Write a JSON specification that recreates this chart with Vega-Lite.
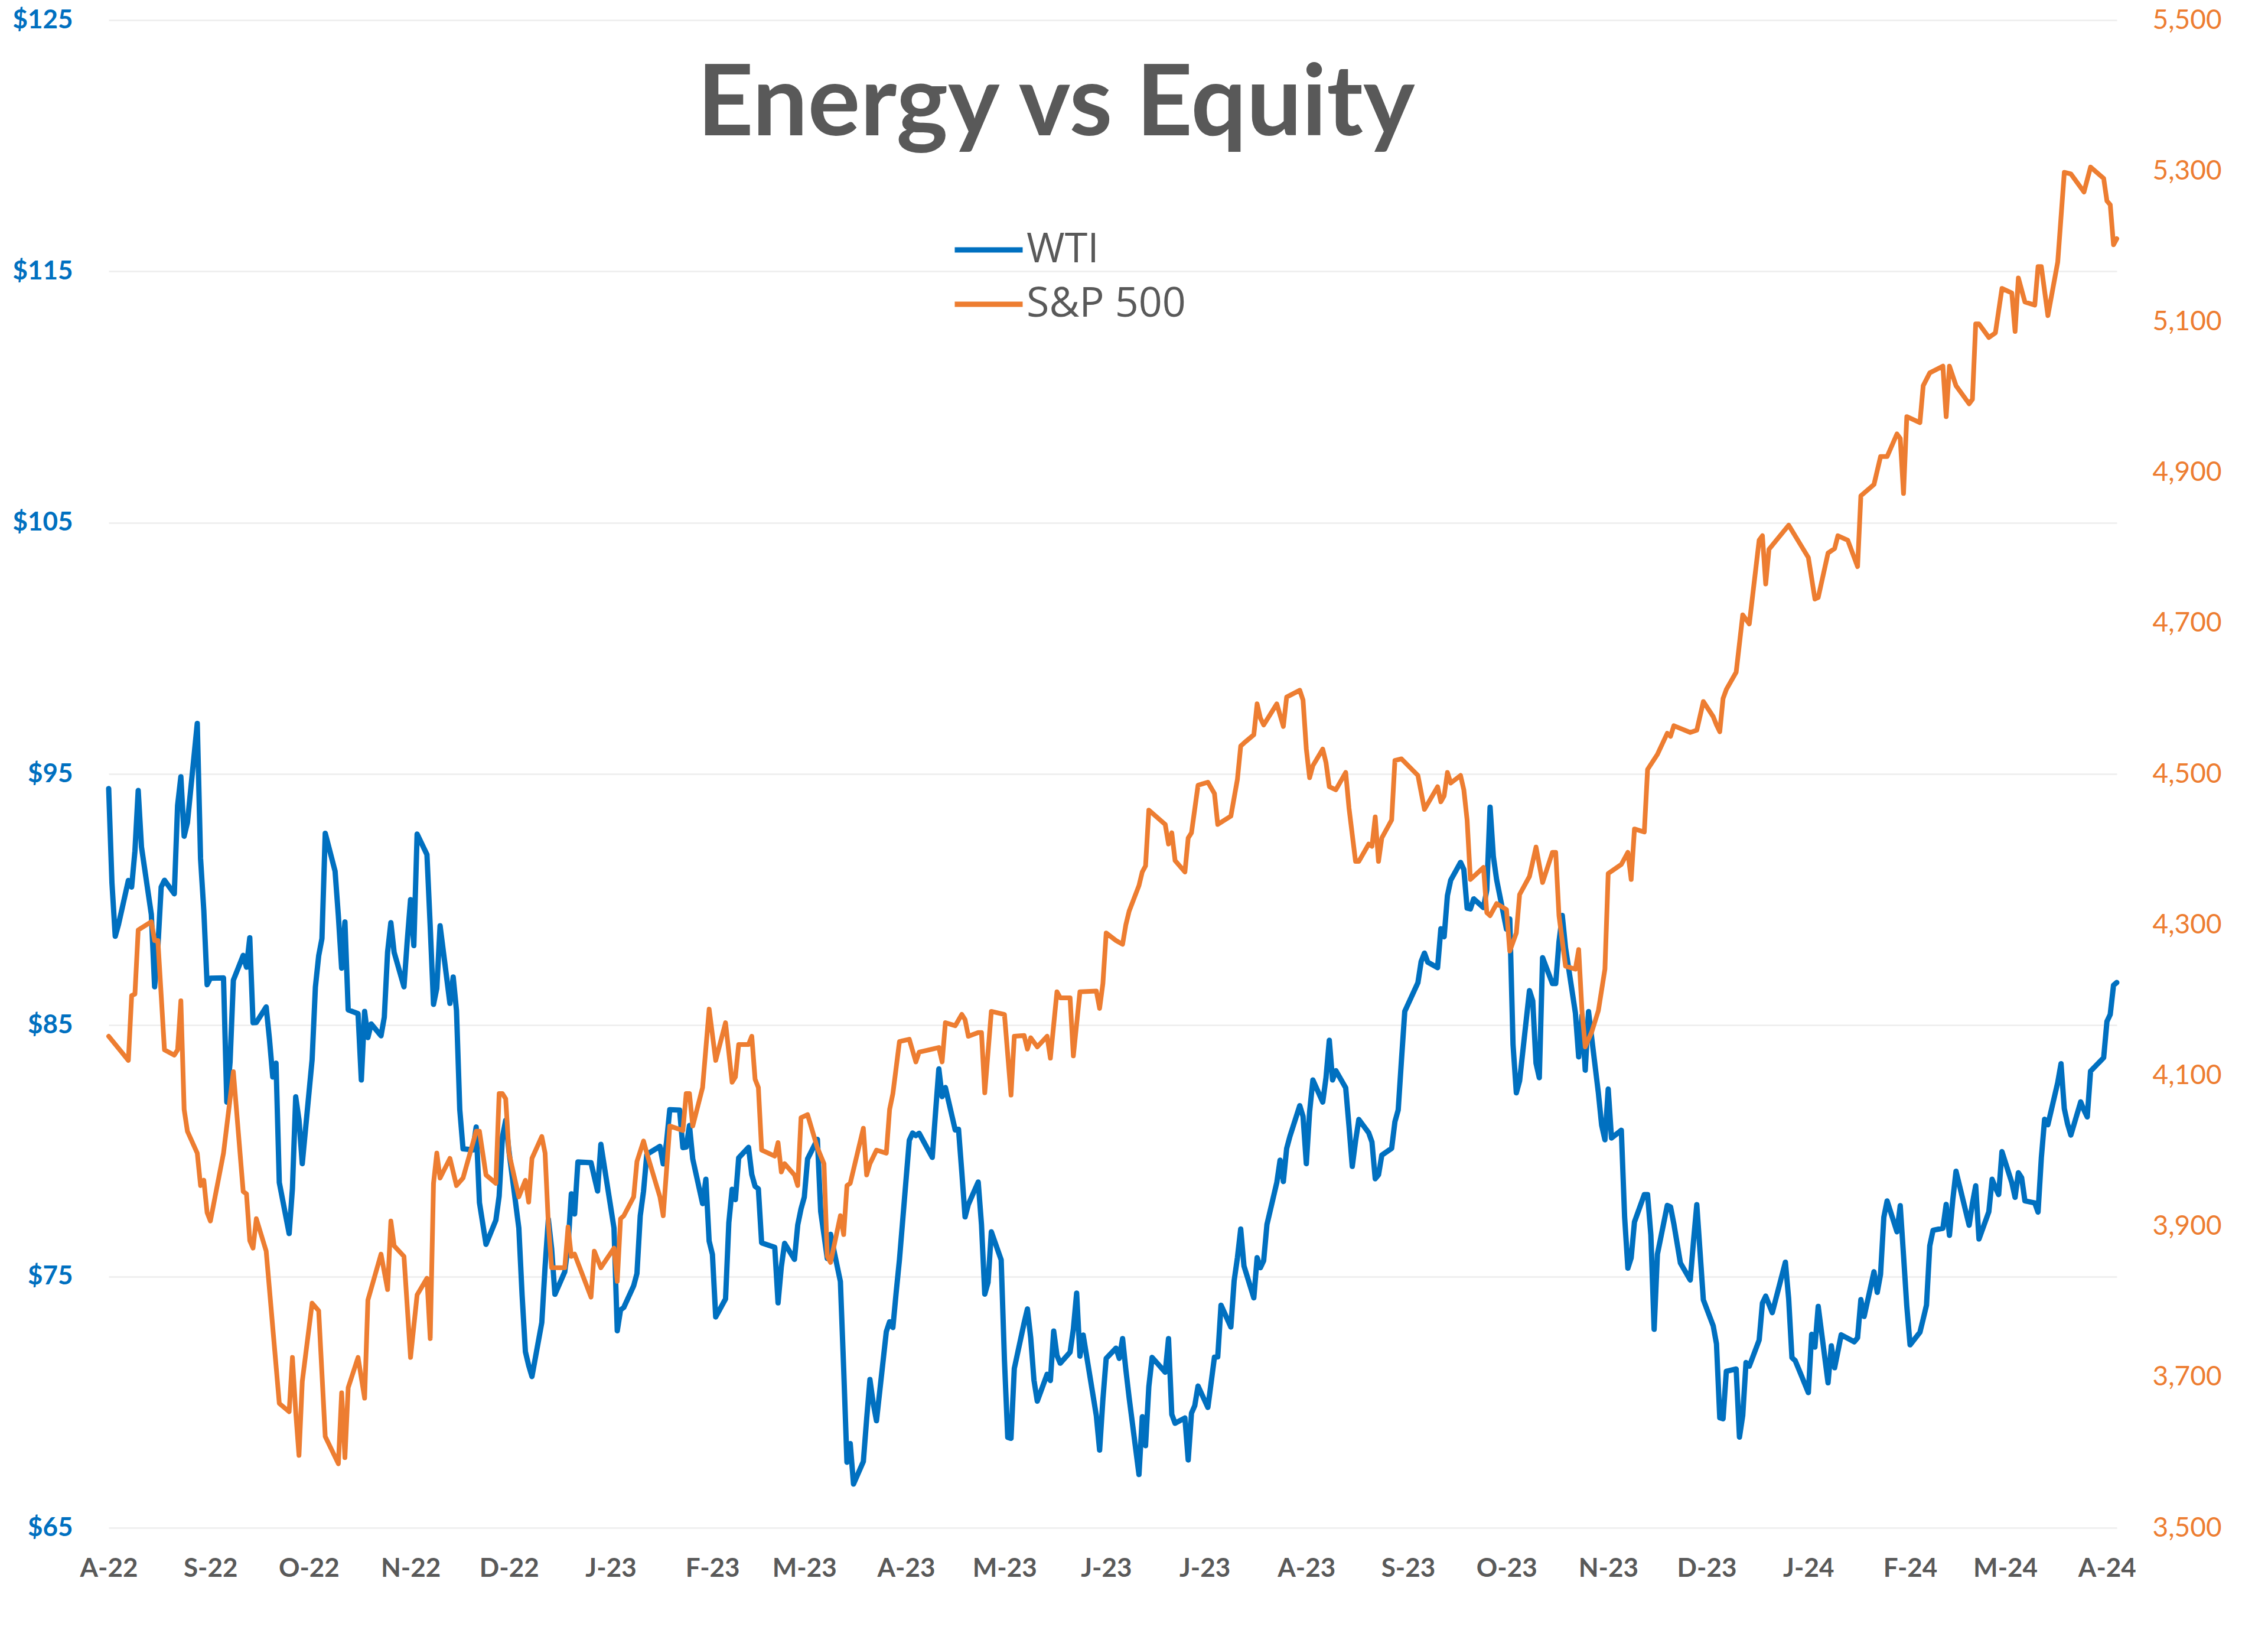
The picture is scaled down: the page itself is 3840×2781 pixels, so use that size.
{
"$schema":"https://vega.github.io/schema/vega-lite/v6.json",
"width":3400,"height":2552,
"autosize":{"type":"none"},
"padding":{"left":184,"top":34,"right":256,"bottom":195},
"background":"white",
"title":{"text":"Energy vs Equity","anchor":"middle","frame":"group","offset":0,"baseline":"alphabetic","dy":384,"dx":-96,"font":"Lato","fontSize":166,"fontWeight":700,"color":"#595959"},
"datasets":{
"wti":[
{"d":"2022-08-02","v":94.42},{"d":"2022-08-03","v":90.66},{"d":"2022-08-04","v":88.54},{"d":"2022-08-05","v":89.01},{"d":"2022-08-08","v":90.76},{"d":"2022-08-09","v":90.50},{"d":"2022-08-10","v":91.93},{"d":"2022-08-11","v":94.34},{"d":"2022-08-12","v":92.09},{"d":"2022-08-15","v":89.41},{"d":"2022-08-16","v":86.53},{"d":"2022-08-17","v":88.11},{"d":"2022-08-18","v":90.50},{"d":"2022-08-19","v":90.77},{"d":"2022-08-22","v":90.23},{"d":"2022-08-23","v":93.74},{"d":"2022-08-24","v":94.89},{"d":"2022-08-25","v":92.52},{"d":"2022-08-26","v":93.06},{"d":"2022-08-29","v":97.01},{"d":"2022-08-30","v":91.64},{"d":"2022-08-31","v":89.55},
{"d":"2022-09-01","v":86.61},{"d":"2022-09-02","v":86.87},{"d":"2022-09-06","v":86.88},{"d":"2022-09-07","v":81.94},{"d":"2022-09-08","v":83.54},{"d":"2022-09-09","v":86.79},{"d":"2022-09-12","v":87.78},{"d":"2022-09-13","v":87.31},{"d":"2022-09-14","v":88.48},{"d":"2022-09-15","v":85.10},{"d":"2022-09-16","v":85.11},{"d":"2022-09-19","v":85.73},{"d":"2022-09-20","v":84.45},{"d":"2022-09-21","v":82.94},{"d":"2022-09-22","v":83.49},{"d":"2022-09-23","v":78.74},{"d":"2022-09-26","v":76.71},{"d":"2022-09-27","v":78.50},{"d":"2022-09-28","v":82.15},{"d":"2022-09-29","v":81.23},{"d":"2022-09-30","v":79.49},
{"d":"2022-10-03","v":83.63},{"d":"2022-10-04","v":86.52},{"d":"2022-10-05","v":87.76},{"d":"2022-10-06","v":88.45},{"d":"2022-10-07","v":92.64},{"d":"2022-10-10","v":91.13},{"d":"2022-10-11","v":89.35},{"d":"2022-10-12","v":87.27},{"d":"2022-10-13","v":89.11},{"d":"2022-10-14","v":85.61},{"d":"2022-10-17","v":85.46},{"d":"2022-10-18","v":82.82},{"d":"2022-10-19","v":85.55},{"d":"2022-10-20","v":84.51},{"d":"2022-10-21","v":85.05},{"d":"2022-10-24","v":84.58},{"d":"2022-10-25","v":85.32},{"d":"2022-10-26","v":87.91},{"d":"2022-10-27","v":89.08},{"d":"2022-10-28","v":87.90},{"d":"2022-10-31","v":86.53},
{"d":"2022-11-01","v":88.37},{"d":"2022-11-02","v":90.00},{"d":"2022-11-03","v":88.17},{"d":"2022-11-04","v":92.61},{"d":"2022-11-07","v":91.79},{"d":"2022-11-08","v":88.91},{"d":"2022-11-09","v":85.83},{"d":"2022-11-10","v":86.47},{"d":"2022-11-11","v":88.96},{"d":"2022-11-14","v":85.87},{"d":"2022-11-15","v":86.92},{"d":"2022-11-16","v":85.59},{"d":"2022-11-17","v":81.64},{"d":"2022-11-18","v":80.08},{"d":"2022-11-21","v":80.04},{"d":"2022-11-22","v":80.95},{"d":"2022-11-23","v":77.94},{"d":"2022-11-25","v":76.28},{"d":"2022-11-28","v":77.24},{"d":"2022-11-29","v":78.20},{"d":"2022-11-30","v":80.55},
{"d":"2022-12-01","v":81.22},{"d":"2022-12-02","v":79.98},{"d":"2022-12-05","v":76.93},{"d":"2022-12-06","v":74.25},{"d":"2022-12-07","v":72.01},{"d":"2022-12-08","v":71.46},{"d":"2022-12-09","v":71.02},{"d":"2022-12-12","v":73.17},{"d":"2022-12-13","v":75.39},{"d":"2022-12-14","v":77.28},{"d":"2022-12-15","v":76.11},{"d":"2022-12-16","v":74.29},{"d":"2022-12-19","v":75.19},{"d":"2022-12-20","v":76.23},{"d":"2022-12-21","v":78.29},{"d":"2022-12-22","v":77.49},{"d":"2022-12-23","v":79.56},{"d":"2022-12-27","v":79.53},{"d":"2022-12-28","v":78.96},{"d":"2022-12-29","v":78.40},{"d":"2022-12-30","v":80.26},
{"d":"2023-01-03","v":76.93},{"d":"2023-01-04","v":72.84},{"d":"2023-01-05","v":73.67},{"d":"2023-01-06","v":73.77},{"d":"2023-01-09","v":74.63},{"d":"2023-01-10","v":75.12},{"d":"2023-01-11","v":77.41},{"d":"2023-01-12","v":78.39},{"d":"2023-01-13","v":79.86},{"d":"2023-01-17","v":80.18},{"d":"2023-01-18","v":79.48},{"d":"2023-01-19","v":80.33},{"d":"2023-01-20","v":81.64},{"d":"2023-01-23","v":81.62},{"d":"2023-01-24","v":80.13},{"d":"2023-01-25","v":80.15},{"d":"2023-01-26","v":81.01},{"d":"2023-01-27","v":79.68},{"d":"2023-01-30","v":77.90},{"d":"2023-01-31","v":78.87},
{"d":"2023-02-01","v":76.41},{"d":"2023-02-02","v":75.88},{"d":"2023-02-03","v":73.39},{"d":"2023-02-06","v":74.11},{"d":"2023-02-07","v":77.14},{"d":"2023-02-08","v":78.47},{"d":"2023-02-09","v":78.06},{"d":"2023-02-10","v":79.72},{"d":"2023-02-13","v":80.14},{"d":"2023-02-14","v":79.06},{"d":"2023-02-15","v":78.59},{"d":"2023-02-16","v":78.49},{"d":"2023-02-17","v":76.34},{"d":"2023-02-21","v":76.16},{"d":"2023-02-22","v":73.95},{"d":"2023-02-23","v":75.39},{"d":"2023-02-24","v":76.32},{"d":"2023-02-27","v":75.68},{"d":"2023-02-28","v":77.05},
{"d":"2023-03-01","v":77.69},{"d":"2023-03-02","v":78.16},{"d":"2023-03-03","v":79.68},{"d":"2023-03-06","v":80.46},{"d":"2023-03-07","v":77.58},{"d":"2023-03-08","v":76.66},{"d":"2023-03-09","v":75.72},{"d":"2023-03-10","v":76.68},{"d":"2023-03-13","v":74.80},{"d":"2023-03-14","v":71.33},{"d":"2023-03-15","v":67.61},{"d":"2023-03-16","v":68.35},{"d":"2023-03-17","v":66.74},{"d":"2023-03-20","v":67.64},{"d":"2023-03-21","v":69.33},{"d":"2023-03-22","v":70.90},{"d":"2023-03-23","v":69.96},{"d":"2023-03-24","v":69.26},{"d":"2023-03-27","v":72.81},{"d":"2023-03-28","v":73.20},{"d":"2023-03-29","v":72.97},{"d":"2023-03-30","v":74.37},{"d":"2023-03-31","v":75.67},
{"d":"2023-04-03","v":80.42},{"d":"2023-04-04","v":80.71},{"d":"2023-04-05","v":80.61},{"d":"2023-04-06","v":80.70},{"d":"2023-04-10","v":79.74},{"d":"2023-04-11","v":81.53},{"d":"2023-04-12","v":83.26},{"d":"2023-04-13","v":82.16},{"d":"2023-04-14","v":82.52},{"d":"2023-04-17","v":80.83},{"d":"2023-04-18","v":80.86},{"d":"2023-04-19","v":79.16},{"d":"2023-04-20","v":77.37},{"d":"2023-04-21","v":77.87},{"d":"2023-04-24","v":78.76},{"d":"2023-04-25","v":77.07},{"d":"2023-04-26","v":74.30},{"d":"2023-04-27","v":74.76},{"d":"2023-04-28","v":76.78},
{"d":"2023-05-01","v":75.66},{"d":"2023-05-02","v":71.66},{"d":"2023-05-03","v":68.60},{"d":"2023-05-04","v":68.56},{"d":"2023-05-05","v":71.34},{"d":"2023-05-08","v":73.16},{"d":"2023-05-09","v":73.71},{"d":"2023-05-10","v":72.56},{"d":"2023-05-11","v":70.87},{"d":"2023-05-12","v":70.04},{"d":"2023-05-15","v":71.11},{"d":"2023-05-16","v":70.86},{"d":"2023-05-17","v":72.83},{"d":"2023-05-18","v":71.86},{"d":"2023-05-19","v":71.55},{"d":"2023-05-22","v":71.99},{"d":"2023-05-23","v":72.91},{"d":"2023-05-24","v":74.34},{"d":"2023-05-25","v":71.83},{"d":"2023-05-26","v":72.67},{"d":"2023-05-30","v":69.46},{"d":"2023-05-31","v":68.09},
{"d":"2023-06-01","v":70.10},{"d":"2023-06-02","v":71.74},{"d":"2023-06-05","v":72.15},{"d":"2023-06-06","v":71.74},{"d":"2023-06-07","v":72.53},{"d":"2023-06-08","v":71.29},{"d":"2023-06-09","v":70.17},{"d":"2023-06-12","v":67.12},{"d":"2023-06-13","v":69.42},{"d":"2023-06-14","v":68.27},{"d":"2023-06-15","v":70.62},{"d":"2023-06-16","v":71.78},{"d":"2023-06-20","v":71.19},{"d":"2023-06-21","v":72.53},{"d":"2023-06-22","v":69.51},{"d":"2023-06-23","v":69.16},{"d":"2023-06-26","v":69.37},{"d":"2023-06-27","v":67.70},{"d":"2023-06-28","v":69.56},{"d":"2023-06-29","v":69.86},{"d":"2023-06-30","v":70.64},
{"d":"2023-07-03","v":69.79},{"d":"2023-07-05","v":71.79},{"d":"2023-07-06","v":71.80},{"d":"2023-07-07","v":73.86},{"d":"2023-07-10","v":72.99},{"d":"2023-07-11","v":74.83},{"d":"2023-07-12","v":75.75},{"d":"2023-07-13","v":76.89},{"d":"2023-07-14","v":75.42},{"d":"2023-07-17","v":74.15},{"d":"2023-07-18","v":75.75},{"d":"2023-07-19","v":75.35},{"d":"2023-07-20","v":75.63},{"d":"2023-07-21","v":77.07},{"d":"2023-07-24","v":78.74},{"d":"2023-07-25","v":79.63},{"d":"2023-07-26","v":78.78},{"d":"2023-07-27","v":80.09},{"d":"2023-07-28","v":80.58},{"d":"2023-07-31","v":81.80},
{"d":"2023-08-01","v":81.37},{"d":"2023-08-02","v":79.49},{"d":"2023-08-03","v":81.55},{"d":"2023-08-04","v":82.82},{"d":"2023-08-07","v":81.94},{"d":"2023-08-08","v":82.92},{"d":"2023-08-09","v":84.40},{"d":"2023-08-10","v":82.82},{"d":"2023-08-11","v":83.19},{"d":"2023-08-14","v":82.51},{"d":"2023-08-15","v":80.99},{"d":"2023-08-16","v":79.38},{"d":"2023-08-17","v":80.39},{"d":"2023-08-18","v":81.25},{"d":"2023-08-21","v":80.72},{"d":"2023-08-22","v":80.35},{"d":"2023-08-23","v":78.89},{"d":"2023-08-24","v":79.05},{"d":"2023-08-25","v":79.83},{"d":"2023-08-28","v":80.10},{"d":"2023-08-29","v":81.16},{"d":"2023-08-30","v":81.63},{"d":"2023-08-31","v":83.63},
{"d":"2023-09-01","v":85.55},{"d":"2023-09-05","v":86.69},{"d":"2023-09-06","v":87.54},{"d":"2023-09-07","v":87.87},{"d":"2023-09-08","v":87.51},{"d":"2023-09-11","v":87.29},{"d":"2023-09-12","v":88.84},{"d":"2023-09-13","v":88.52},{"d":"2023-09-14","v":90.16},{"d":"2023-09-15","v":90.77},{"d":"2023-09-18","v":91.48},{"d":"2023-09-19","v":91.20},{"d":"2023-09-20","v":89.66},{"d":"2023-09-21","v":89.63},{"d":"2023-09-22","v":90.03},{"d":"2023-09-25","v":89.68},{"d":"2023-09-26","v":90.39},{"d":"2023-09-27","v":93.68},{"d":"2023-09-28","v":91.71},{"d":"2023-09-29","v":90.79},
{"d":"2023-10-02","v":88.82},{"d":"2023-10-03","v":89.23},{"d":"2023-10-04","v":84.22},{"d":"2023-10-05","v":82.31},{"d":"2023-10-06","v":82.79},{"d":"2023-10-09","v":86.38},{"d":"2023-10-10","v":85.97},{"d":"2023-10-11","v":83.49},{"d":"2023-10-12","v":82.91},{"d":"2023-10-13","v":87.69},{"d":"2023-10-16","v":86.66},{"d":"2023-10-17","v":86.66},{"d":"2023-10-18","v":88.32},{"d":"2023-10-19","v":89.37},{"d":"2023-10-20","v":88.08},{"d":"2023-10-23","v":85.49},{"d":"2023-10-24","v":83.74},{"d":"2023-10-25","v":85.39},{"d":"2023-10-26","v":83.21},{"d":"2023-10-27","v":85.54},{"d":"2023-10-30","v":82.31},{"d":"2023-10-31","v":81.02},
{"d":"2023-11-01","v":80.44},{"d":"2023-11-02","v":82.46},{"d":"2023-11-03","v":80.51},{"d":"2023-11-06","v":80.82},{"d":"2023-11-07","v":77.37},{"d":"2023-11-08","v":75.33},{"d":"2023-11-09","v":75.74},{"d":"2023-11-10","v":77.17},{"d":"2023-11-13","v":78.26},{"d":"2023-11-14","v":78.26},{"d":"2023-11-15","v":76.66},{"d":"2023-11-16","v":72.90},{"d":"2023-11-17","v":75.89},{"d":"2023-11-20","v":77.83},{"d":"2023-11-21","v":77.77},{"d":"2023-11-22","v":77.10},{"d":"2023-11-24","v":75.54},{"d":"2023-11-27","v":74.86},{"d":"2023-11-28","v":76.41},{"d":"2023-11-29","v":77.86},{"d":"2023-11-30","v":75.96},
{"d":"2023-12-01","v":74.07},{"d":"2023-12-04","v":73.04},{"d":"2023-12-05","v":72.32},{"d":"2023-12-06","v":69.38},{"d":"2023-12-07","v":69.34},{"d":"2023-12-08","v":71.23},{"d":"2023-12-11","v":71.32},{"d":"2023-12-12","v":68.61},{"d":"2023-12-13","v":69.47},{"d":"2023-12-14","v":71.58},{"d":"2023-12-15","v":71.43},{"d":"2023-12-18","v":72.47},{"d":"2023-12-19","v":73.94},{"d":"2023-12-20","v":74.22},{"d":"2023-12-21","v":73.89},{"d":"2023-12-22","v":73.56},{"d":"2023-12-26","v":75.57},{"d":"2023-12-27","v":74.11},{"d":"2023-12-28","v":71.77},{"d":"2023-12-29","v":71.65},
{"d":"2024-01-02","v":70.38},{"d":"2024-01-03","v":72.70},{"d":"2024-01-04","v":72.19},{"d":"2024-01-05","v":73.81},{"d":"2024-01-08","v":70.77},{"d":"2024-01-09","v":72.24},{"d":"2024-01-10","v":71.37},{"d":"2024-01-11","v":72.02},{"d":"2024-01-12","v":72.68},{"d":"2024-01-16","v":72.40},{"d":"2024-01-17","v":72.56},{"d":"2024-01-18","v":74.08},{"d":"2024-01-19","v":73.41},{"d":"2024-01-22","v":75.19},{"d":"2024-01-23","v":74.37},{"d":"2024-01-24","v":75.09},{"d":"2024-01-25","v":77.36},{"d":"2024-01-26","v":78.01},{"d":"2024-01-29","v":76.78},{"d":"2024-01-30","v":77.82},{"d":"2024-01-31","v":75.85},
{"d":"2024-02-01","v":73.82},{"d":"2024-02-02","v":72.28},{"d":"2024-02-05","v":72.78},{"d":"2024-02-06","v":73.31},{"d":"2024-02-07","v":73.86},{"d":"2024-02-08","v":76.22},{"d":"2024-02-09","v":76.84},{"d":"2024-02-12","v":76.92},{"d":"2024-02-13","v":77.87},{"d":"2024-02-14","v":76.64},{"d":"2024-02-15","v":78.03},{"d":"2024-02-16","v":79.19},{"d":"2024-02-20","v":77.04},{"d":"2024-02-21","v":77.91},{"d":"2024-02-22","v":78.61},{"d":"2024-02-23","v":76.49},{"d":"2024-02-26","v":77.58},{"d":"2024-02-27","v":78.87},{"d":"2024-02-28","v":78.54},{"d":"2024-02-29","v":78.26},
{"d":"2024-03-01","v":79.97},{"d":"2024-03-04","v":78.74},{"d":"2024-03-05","v":78.15},{"d":"2024-03-06","v":79.13},{"d":"2024-03-07","v":78.93},{"d":"2024-03-08","v":78.01},{"d":"2024-03-11","v":77.93},{"d":"2024-03-12","v":77.56},{"d":"2024-03-13","v":79.72},{"d":"2024-03-14","v":81.26},{"d":"2024-03-15","v":81.04},{"d":"2024-03-18","v":82.72},{"d":"2024-03-19","v":83.47},{"d":"2024-03-20","v":81.68},{"d":"2024-03-21","v":81.07},{"d":"2024-03-22","v":80.63},{"d":"2024-03-25","v":81.95},{"d":"2024-03-26","v":81.62},{"d":"2024-03-27","v":81.35},{"d":"2024-03-28","v":83.17},
{"d":"2024-04-01","v":83.71},{"d":"2024-04-02","v":85.15},{"d":"2024-04-03","v":85.43},{"d":"2024-04-04","v":86.59},{"d":"2024-04-05","v":86.70}
],
"sp":[
{"d":"2022-08-02","v":4152},{"d":"2022-08-08","v":4120},{"d":"2022-08-09","v":4206},{"d":"2022-08-10","v":4208},{"d":"2022-08-11","v":4293},{"d":"2022-08-15","v":4304},{"d":"2022-08-16","v":4279},{"d":"2022-08-17","v":4279},{"d":"2022-08-19","v":4134},{"d":"2022-08-22","v":4127},{"d":"2022-08-23","v":4134},{"d":"2022-08-24","v":4199},{"d":"2022-08-25","v":4055},{"d":"2022-08-26","v":4026},{"d":"2022-08-29","v":3997},{"d":"2022-08-30","v":3954},{"d":"2022-08-31","v":3961},
{"d":"2022-09-01","v":3918},{"d":"2022-09-02","v":3907},{"d":"2022-09-06","v":3997},{"d":"2022-09-09","v":4105},{"d":"2022-09-12","v":3946},{"d":"2022-09-13","v":3943},{"d":"2022-09-14","v":3881},{"d":"2022-09-15","v":3871},{"d":"2022-09-16","v":3910},{"d":"2022-09-19","v":3867},{"d":"2022-09-21","v":3766},{"d":"2022-09-23","v":3665},{"d":"2022-09-26","v":3654},{"d":"2022-09-27","v":3726},{"d":"2022-09-28","v":3654},{"d":"2022-09-29","v":3596},{"d":"2022-09-30","v":3694},
{"d":"2022-10-03","v":3798},{"d":"2022-10-05","v":3788},{"d":"2022-10-07","v":3621},{"d":"2022-10-11","v":3585},{"d":"2022-10-12","v":3679},{"d":"2022-10-13","v":3593},{"d":"2022-10-14","v":3686},{"d":"2022-10-17","v":3726},{"d":"2022-10-19","v":3672},{"d":"2022-10-20","v":3802},{"d":"2022-10-24","v":3863},{"d":"2022-10-26","v":3816},{"d":"2022-10-27","v":3907},{"d":"2022-10-28","v":3874},{"d":"2022-10-31","v":3860},
{"d":"2022-11-02","v":3726},{"d":"2022-11-04","v":3809},{"d":"2022-11-07","v":3831},{"d":"2022-11-08","v":3751},{"d":"2022-11-09","v":3957},{"d":"2022-11-10","v":3997},{"d":"2022-11-11","v":3964},{"d":"2022-11-14","v":3990},{"d":"2022-11-16","v":3954},{"d":"2022-11-18","v":3964},{"d":"2022-11-22","v":4026},{"d":"2022-11-23","v":4026},{"d":"2022-11-25","v":3968},{"d":"2022-11-28","v":3957},{"d":"2022-11-29","v":4076},{"d":"2022-11-30","v":4076},
{"d":"2022-12-01","v":4069},{"d":"2022-12-02","v":3997},{"d":"2022-12-05","v":3939},{"d":"2022-12-07","v":3961},{"d":"2022-12-08","v":3932},{"d":"2022-12-09","v":3990},{"d":"2022-12-12","v":4019},{"d":"2022-12-13","v":3997},{"d":"2022-12-14","v":3903},{"d":"2022-12-15","v":3845},{"d":"2022-12-19","v":3845},{"d":"2022-12-20","v":3899},{"d":"2022-12-21","v":3860},{"d":"2022-12-22","v":3863},{"d":"2022-12-27","v":3806},{"d":"2022-12-28","v":3867},{"d":"2022-12-30","v":3845},
{"d":"2023-01-03","v":3871},{"d":"2023-01-04","v":3827},{"d":"2023-01-05","v":3910},{"d":"2023-01-06","v":3914},{"d":"2023-01-09","v":3939},{"d":"2023-01-10","v":3986},{"d":"2023-01-12","v":4013},{"d":"2023-01-13","v":3997},{"d":"2023-01-17","v":3939},{"d":"2023-01-18","v":3914},{"d":"2023-01-20","v":4033},{"d":"2023-01-24","v":4027},{"d":"2023-01-25","v":4076},{"d":"2023-01-26","v":4076},{"d":"2023-01-27","v":4033},{"d":"2023-01-30","v":4084},
{"d":"2023-02-01","v":4188},{"d":"2023-02-03","v":4120},{"d":"2023-02-06","v":4170},{"d":"2023-02-08","v":4091},{"d":"2023-02-09","v":4098},{"d":"2023-02-10","v":4141},{"d":"2023-02-13","v":4141},{"d":"2023-02-14","v":4152},{"d":"2023-02-15","v":4095},{"d":"2023-02-16","v":4084},{"d":"2023-02-17","v":4001},{"d":"2023-02-21","v":3993},{"d":"2023-02-22","v":4011},{"d":"2023-02-23","v":3972},{"d":"2023-02-24","v":3983},{"d":"2023-02-27","v":3968},{"d":"2023-02-28","v":3954},
{"d":"2023-03-01","v":4044},{"d":"2023-03-03","v":4048},{"d":"2023-03-06","v":4004},{"d":"2023-03-08","v":3983},{"d":"2023-03-09","v":3860},{"d":"2023-03-10","v":3852},{"d":"2023-03-13","v":3914},{"d":"2023-03-14","v":3889},{"d":"2023-03-15","v":3954},{"d":"2023-03-16","v":3957},{"d":"2023-03-20","v":4030},{"d":"2023-03-21","v":3968},{"d":"2023-03-22","v":3983},{"d":"2023-03-24","v":4001},{"d":"2023-03-27","v":3997},{"d":"2023-03-28","v":4055},{"d":"2023-03-29","v":4076},{"d":"2023-03-31","v":4145},
{"d":"2023-04-03","v":4148},{"d":"2023-04-05","v":4118},{"d":"2023-04-06","v":4131},{"d":"2023-04-12","v":4137},{"d":"2023-04-13","v":4118},{"d":"2023-04-14","v":4170},{"d":"2023-04-17","v":4166},{"d":"2023-04-19","v":4181},{"d":"2023-04-20","v":4174},{"d":"2023-04-21","v":4152},{"d":"2023-04-24","v":4157},{"d":"2023-04-25","v":4157},{"d":"2023-04-26","v":4077},{"d":"2023-04-28","v":4185},
{"d":"2023-05-02","v":4181},{"d":"2023-05-04","v":4074},{"d":"2023-05-05","v":4152},{"d":"2023-05-08","v":4153},{"d":"2023-05-09","v":4135},{"d":"2023-05-10","v":4150},{"d":"2023-05-12","v":4138},{"d":"2023-05-15","v":4152},{"d":"2023-05-16","v":4123},{"d":"2023-05-18","v":4211},{"d":"2023-05-19","v":4203},{"d":"2023-05-22","v":4203},{"d":"2023-05-23","v":4126},{"d":"2023-05-25","v":4211},{"d":"2023-05-30","v":4212},{"d":"2023-05-31","v":4189},
{"d":"2023-06-01","v":4222},{"d":"2023-06-02","v":4289},{"d":"2023-06-05","v":4279},{"d":"2023-06-07","v":4274},{"d":"2023-06-08","v":4300},{"d":"2023-06-09","v":4318},{"d":"2023-06-12","v":4352},{"d":"2023-06-13","v":4370},{"d":"2023-06-14","v":4378},{"d":"2023-06-15","v":4452},{"d":"2023-06-20","v":4433},{"d":"2023-06-21","v":4407},{"d":"2023-06-22","v":4422},{"d":"2023-06-23","v":4385},{"d":"2023-06-26","v":4370},{"d":"2023-06-27","v":4415},{"d":"2023-06-28","v":4422},{"d":"2023-06-30","v":4485},
{"d":"2023-07-03","v":4489},{"d":"2023-07-05","v":4474},{"d":"2023-07-06","v":4433},{"d":"2023-07-10","v":4444},{"d":"2023-07-12","v":4493},{"d":"2023-07-13","v":4537},{"d":"2023-07-14","v":4541},{"d":"2023-07-17","v":4552},{"d":"2023-07-18","v":4593},{"d":"2023-07-19","v":4574},{"d":"2023-07-20","v":4565},{"d":"2023-07-24","v":4593},{"d":"2023-07-26","v":4563},{"d":"2023-07-27","v":4602},{"d":"2023-07-31","v":4611},
{"d":"2023-08-01","v":4598},{"d":"2023-08-02","v":4533},{"d":"2023-08-03","v":4495},{"d":"2023-08-04","v":4511},{"d":"2023-08-07","v":4533},{"d":"2023-08-08","v":4515},{"d":"2023-08-09","v":4483},{"d":"2023-08-11","v":4479},{"d":"2023-08-14","v":4502},{"d":"2023-08-15","v":4455},{"d":"2023-08-17","v":4384},{"d":"2023-08-18","v":4384},{"d":"2023-08-21","v":4407},{"d":"2023-08-22","v":4404},{"d":"2023-08-23","v":4443},{"d":"2023-08-24","v":4384},{"d":"2023-08-25","v":4415},{"d":"2023-08-28","v":4439},{"d":"2023-08-29","v":4518},{"d":"2023-08-31","v":4520},
{"d":"2023-09-05","v":4498},{"d":"2023-09-07","v":4453},{"d":"2023-09-11","v":4483},{"d":"2023-09-12","v":4463},{"d":"2023-09-13","v":4471},{"d":"2023-09-14","v":4502},{"d":"2023-09-15","v":4488},{"d":"2023-09-18","v":4498},{"d":"2023-09-19","v":4479},{"d":"2023-09-20","v":4439},{"d":"2023-09-21","v":4360},{"d":"2023-09-25","v":4376},{"d":"2023-09-26","v":4316},{"d":"2023-09-27","v":4312},{"d":"2023-09-29","v":4328},
{"d":"2023-10-02","v":4320},{"d":"2023-10-03","v":4265},{"d":"2023-10-05","v":4289},{"d":"2023-10-06","v":4340},{"d":"2023-10-09","v":4364},{"d":"2023-10-11","v":4403},{"d":"2023-10-13","v":4356},{"d":"2023-10-16","v":4396},{"d":"2023-10-17","v":4396},{"d":"2023-10-18","v":4312},{"d":"2023-10-20","v":4245},{"d":"2023-10-23","v":4241},{"d":"2023-10-24","v":4267},{"d":"2023-10-25","v":4186},{"d":"2023-10-26","v":4138},{"d":"2023-10-28","v":4158},{"d":"2023-10-30","v":4186},
{"d":"2023-11-01","v":4241},{"d":"2023-11-02","v":4368},{"d":"2023-11-06","v":4380},{"d":"2023-11-08","v":4396},{"d":"2023-11-09","v":4360},{"d":"2023-11-10","v":4427},{"d":"2023-11-13","v":4423},{"d":"2023-11-14","v":4506},{"d":"2023-11-17","v":4526},{"d":"2023-11-20","v":4554},{"d":"2023-11-21","v":4550},{"d":"2023-11-22","v":4564},{"d":"2023-11-27","v":4555},{"d":"2023-11-29","v":4558},
{"d":"2023-12-01","v":4596},{"d":"2023-12-04","v":4576},{"d":"2023-12-05","v":4565},{"d":"2023-12-06","v":4556},{"d":"2023-12-07","v":4600},{"d":"2023-12-08","v":4612},{"d":"2023-12-11","v":4635},{"d":"2023-12-13","v":4711},{"d":"2023-12-15","v":4699},{"d":"2023-12-18","v":4810},{"d":"2023-12-19","v":4816},{"d":"2023-12-20","v":4752},{"d":"2023-12-21","v":4798},{"d":"2023-12-27","v":4830},
{"d":"2024-01-02","v":4787},{"d":"2024-01-04","v":4732},{"d":"2024-01-05","v":4734},{"d":"2024-01-08","v":4793},{"d":"2024-01-10","v":4799},{"d":"2024-01-11","v":4816},{"d":"2024-01-14","v":4810},{"d":"2024-01-17","v":4775},{"d":"2024-01-18","v":4869},{"d":"2024-01-22","v":4884},{"d":"2024-01-24","v":4921},{"d":"2024-01-26","v":4921},{"d":"2024-01-29","v":4951},{"d":"2024-01-30","v":4945},{"d":"2024-01-31","v":4872},
{"d":"2024-02-01","v":4974},{"d":"2024-02-05","v":4966},{"d":"2024-02-06","v":5015},{"d":"2024-02-08","v":5032},{"d":"2024-02-12","v":5041},{"d":"2024-02-13","v":4974},{"d":"2024-02-14","v":5041},{"d":"2024-02-16","v":5015},{"d":"2024-02-20","v":4991},{"d":"2024-02-21","v":4997},{"d":"2024-02-22","v":5097},{"d":"2024-02-23","v":5097},{"d":"2024-02-26","v":5079},{"d":"2024-02-28","v":5085},
{"d":"2024-03-01","v":5144},{"d":"2024-03-04","v":5138},{"d":"2024-03-05","v":5087},{"d":"2024-03-06","v":5158},{"d":"2024-03-08","v":5126},{"d":"2024-03-11","v":5122},{"d":"2024-03-12","v":5173},{"d":"2024-03-13","v":5173},{"d":"2024-03-15","v":5108},{"d":"2024-03-18","v":5179},{"d":"2024-03-20","v":5298},{"d":"2024-03-22","v":5296},{"d":"2024-03-26","v":5272},{"d":"2024-03-28","v":5305},
{"d":"2024-04-01","v":5290},{"d":"2024-04-02","v":5260},{"d":"2024-04-03","v":5255},{"d":"2024-04-04","v":5202},{"d":"2024-04-05","v":5210}
]
},
"layer":[
{"data":{"name":"wti"},
 "mark":{"type":"line","strokeWidth":9,"strokeJoin":"round","strokeCap":"round"},
 "encoding":{
  "x":{"field":"d","type":"temporal","scale":{"type":"utc"},
   "axis":{"title":null,"domain":false,"ticks":false,"tickSize":0,"grid":false,"labelFlush":false,"labelOverlap":false,
    "values":[{"year":2022,"month":8,"date":2,"utc":true},{"year":2022,"month":9,"date":2,"utc":true},{"year":2022,"month":10,"date":2,"utc":true},{"year":2022,"month":11,"date":2,"utc":true},{"year":2022,"month":12,"date":2,"utc":true},{"year":2023,"month":1,"date":2,"utc":true},{"year":2023,"month":2,"date":2,"utc":true},{"year":2023,"month":3,"date":2,"utc":true},{"year":2023,"month":4,"date":2,"utc":true},{"year":2023,"month":5,"date":2,"utc":true},{"year":2023,"month":6,"date":2,"utc":true},{"year":2023,"month":7,"date":2,"utc":true},{"year":2023,"month":8,"date":2,"utc":true},{"year":2023,"month":9,"date":2,"utc":true},{"year":2023,"month":10,"date":2,"utc":true},{"year":2023,"month":11,"date":2,"utc":true},{"year":2023,"month":12,"date":2,"utc":true},{"year":2024,"month":1,"date":2,"utc":true},{"year":2024,"month":2,"date":2,"utc":true},{"year":2024,"month":3,"date":2,"utc":true},{"year":2024,"month":4,"date":2,"utc":true}],
    "labelExpr":"substring(utcFormat(datum.value, '%b'), 0, 1) + '-' + utcFormat(datum.value, '%y')",
    "labelFont":"Lato","labelFontSize":44,"labelFontWeight":"bold","labelColor":"#595959","labelPadding":47}},
  "y":{"field":"v","type":"quantitative","scale":{"domain":[65,125],"zero":false,"nice":false},
   "axis":{"title":null,"orient":"left","domain":false,"ticks":false,"tickSize":0,"grid":true,"gridColor":"#EDEDED","gridWidth":2.5,
    "values":[65,75,85,95,105,115,125],"labelExpr":"'$' + datum.value",
    "labelFont":"Lato","labelFontSize":44,"labelFontWeight":"bold","labelColor":"#0070C0","labelPadding":61}},
  "color":{"datum":"WTI","scale":{"domain":["WTI","S&P 500"],"range":["#0070C0","#ED7D31"]},
   "legend":{"title":null,"orient":"none","legendX":1428,"legendY":354,"symbolType":"stroke","symbolSize":13225,"symbolStrokeWidth":9,"clipHeight":70,"labelFont":"Open Sans","labelFontSize":70,"labelColor":"#595959","labelLimit":0,"rowPadding":22,"labelOffset":2,"padding":0}}
 }},
{"data":{"name":"sp"},
 "mark":{"type":"line","strokeWidth":8,"strokeJoin":"round","strokeCap":"round"},
 "encoding":{
  "x":{"field":"d","type":"temporal"},
  "y":{"field":"v","type":"quantitative","scale":{"domain":[3500,5500],"zero":false,"nice":false},
   "axis":{"title":null,"orient":"right","domain":false,"ticks":false,"tickSize":0,"grid":false,
    "values":[3500,3700,3900,4100,4300,4500,4700,4900,5100,5300,5500],"format":",d",
    "labelFont":"Lato","labelFontSize":46,"labelColor":"#ED7D31","labelPadding":60}},
  "color":{"datum":"S&P 500"}
 }}
],
"resolve":{"scale":{"y":"independent"}},
"config":{"view":{"stroke":null}}
}
